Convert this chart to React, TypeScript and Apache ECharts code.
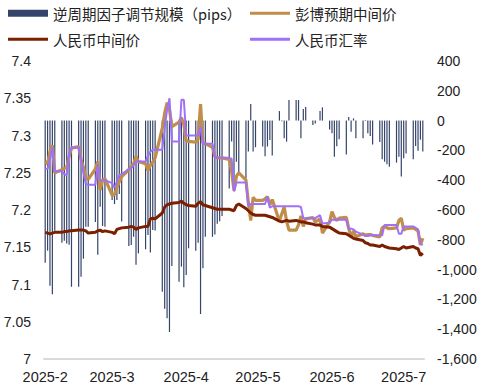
import React, { useEffect, useRef } from "react";
import * as echarts from "echarts";

const NAME_BAR = "逆周期因子调节规模（pips）";
const NAME_BBG = "彭博预期中间价";
const NAME_MID = "人民币中间价";
const NAME_SPOT = "人民币汇率";

const axisStart = "2025-02-03";
const axisEnd = "2025-07-11";

const dates = [
  "2025-02-03", "2025-02-04", "2025-02-05", "2025-02-06", "2025-02-07",
  "2025-02-10", "2025-02-11", "2025-02-12", "2025-02-13", "2025-02-14",
  "2025-02-17", "2025-02-18", "2025-02-19", "2025-02-20", "2025-02-21",
  "2025-02-24", "2025-02-25", "2025-02-26", "2025-02-27", "2025-02-28",
  "2025-03-03", "2025-03-04", "2025-03-05", "2025-03-06", "2025-03-07",
  "2025-03-10", "2025-03-11", "2025-03-12", "2025-03-13", "2025-03-14",
  "2025-03-17", "2025-03-18", "2025-03-19", "2025-03-20", "2025-03-21",
  "2025-03-24", "2025-03-25", "2025-03-26", "2025-03-27", "2025-03-28",
  "2025-03-31", "2025-04-01", "2025-04-02", "2025-04-03", "2025-04-04",
  "2025-04-07", "2025-04-08", "2025-04-09", "2025-04-10", "2025-04-11",
  "2025-04-14", "2025-04-15", "2025-04-16", "2025-04-17", "2025-04-18",
  "2025-04-21", "2025-04-22", "2025-04-23", "2025-04-24", "2025-04-25",
  "2025-04-28", "2025-04-29", "2025-04-30", "2025-05-01", "2025-05-02",
  "2025-05-05", "2025-05-06", "2025-05-07", "2025-05-08", "2025-05-09",
  "2025-05-12", "2025-05-13", "2025-05-14", "2025-05-15", "2025-05-16",
  "2025-05-19", "2025-05-20", "2025-05-21", "2025-05-22", "2025-05-23",
  "2025-05-26", "2025-05-27", "2025-05-29", "2025-05-30",
  "2025-06-02", "2025-06-03", "2025-06-04", "2025-06-05", "2025-06-06",
  "2025-06-09", "2025-06-10", "2025-06-11", "2025-06-12", "2025-06-13",
  "2025-06-16", "2025-06-17", "2025-06-18", "2025-06-19", "2025-06-20",
  "2025-06-23", "2025-06-24", "2025-06-25", "2025-06-26", "2025-06-27",
  "2025-06-30", "2025-07-01", "2025-07-02", "2025-07-03", "2025-07-04",
  "2025-07-07", "2025-07-08", "2025-07-09", "2025-07-10", "2025-07-11",
];

const ccfPips = [
  -954, -873, -1108, -1166, -740,
  -819, -806, -824, -833, -1115,
  -1115, -1048, -927, -712, -712,
  -680, -900, -578, -707, -712,
  -533, -560, -533, -493, -678,
  -842, -835, -779, -967, -891,
  -864, -768, -886, -734, -738,
  -1148, -1262, -1327, -1419, -976,
  -1081, -980, -1119, -1036, -857,
  -873, -819, -1298, -991, -779,
  -780, -765, -693, -675, -640,
  -455, -141, -410, -276, -365,
  -390, -208, 111, -208, -179,
  -174, -240, -174, -130, -235,
  64, -5, -119, -141, 138,
  138, 138, -119, 78, 91,
  -29, -20, 64, 89,
  -60, -85, -242, -172, -125,
  -228, 24, -74, 15, -119,
  -119, 4, -85, -103, -160,
  -144, -260, -276, -293, -309,
  -282, -242, -376, -253, -220,
  -260, -170, -202, -128, -208,
];

const bbgFix = [
  7.265, 7.262, 7.278, 7.287, 7.25,
  7.254, 7.256, 7.257, 7.272, 7.283,
  7.285, 7.268, 7.257, 7.243, 7.241,
  7.255, 7.265, 7.227, 7.24, 7.242,
  7.22, 7.221, 7.23, 7.238, 7.245,
  7.254, 7.258, 7.262, 7.272, 7.265,
  7.262, 7.253, 7.26, 7.264, 7.27,
  7.31, 7.33, 7.344, 7.335, 7.312,
  7.318, 7.324, 7.315, 7.293, 7.292,
  7.291, 7.295, 7.342, 7.29, 7.289,
  7.284, 7.272, 7.27, 7.27, 7.27,
  7.268, 7.252, 7.226, 7.245, 7.25,
  7.24, 7.21, 7.186, 7.217, 7.213,
  7.213, 7.215, 7.218, 7.207, 7.214,
  7.185, 7.195, 7.204, 7.185, 7.173,
  7.173, 7.18, 7.192, 7.178, 7.188,
  7.19, 7.184, 7.188, 7.169,
  7.184, 7.198, 7.19, 7.186, 7.189,
  7.19, 7.175, 7.164, 7.172, 7.164,
  7.168, 7.166, 7.167, 7.167, 7.166,
  7.164, 7.176, 7.178, 7.176, 7.175,
  7.176, 7.186, 7.189, 7.173, 7.175,
  7.176, 7.174, 7.172, 7.153, 7.162,
];

const cnyMid = [
  7.17, 7.169, 7.168, 7.169, 7.17,
  7.17, 7.171, 7.171, 7.172, 7.172,
  7.173, 7.173, 7.173, 7.172, 7.169,
  7.17, 7.172, 7.173, 7.171, 7.172,
  7.17, 7.168, 7.174, 7.175, 7.176,
  7.177, 7.178, 7.177, 7.174, 7.176,
  7.178, 7.178, 7.188, 7.189, 7.188,
  7.196, 7.204, 7.207, 7.208, 7.209,
  7.21, 7.212, 7.209, 7.207, 7.206,
  7.205, 7.209, 7.211, 7.207, 7.206,
  7.203, 7.202, 7.201, 7.201, 7.201,
  7.201, 7.2, 7.199, 7.206, 7.208,
  7.202, 7.199, 7.196, 7.194, 7.193,
  7.193, 7.193, 7.192, 7.191, 7.19,
  7.185, 7.184, 7.185, 7.186, 7.185,
  7.186, 7.185, 7.184, 7.184, 7.183,
  7.181, 7.18, 7.18, 7.178,
  7.177, 7.175, 7.173, 7.171, 7.169,
  7.168, 7.166, 7.164, 7.162, 7.161,
  7.159, 7.156, 7.155, 7.153, 7.153,
  7.151, 7.153, 7.151, 7.15, 7.149,
  7.148, 7.147, 7.149, 7.151, 7.149,
  7.151, 7.149, 7.148, 7.139, 7.142,
];

const usdCny = [
  7.255, 7.255, 7.268, 7.284, 7.252,
  7.252, 7.248, 7.247, 7.275, 7.284,
  7.284, 7.266, 7.25, 7.235, 7.234,
  7.234, 7.261, 7.24, 7.24, 7.24,
  7.236, 7.23, 7.238, 7.247, 7.248,
  7.255, 7.256, 7.26, 7.265, 7.265,
  7.265, 7.273, 7.278, 7.281, 7.281,
  7.281, 7.31, 7.335, 7.35, 7.292,
  7.292, 7.348, 7.348, 7.3, 7.3,
  7.3, 7.3, 7.312, 7.289, 7.289,
  7.289, 7.27, 7.27, 7.27, 7.27,
  7.27, 7.269, 7.225, 7.237, 7.237,
  7.237, 7.205, 7.208, 7.208, 7.208,
  7.208, 7.208, 7.218, 7.203, 7.205,
  7.205, 7.205, 7.205, 7.205, 7.205,
  7.205, 7.205, 7.204, 7.189, 7.189,
  7.189, 7.189, 7.193, 7.182,
  7.183, 7.187, 7.187, 7.187, 7.187,
  7.187, 7.175, 7.175, 7.174, 7.171,
  7.167, 7.165, 7.165, 7.166, 7.166,
  7.166, 7.166, 7.18, 7.18, 7.18,
  7.18, 7.168, 7.168, 7.178, 7.178,
  7.178, 7.176, 7.174, 7.155, 7.153,
];

function calendarDays(start: string, end: string): string[] {
  const out: string[] = [];
  const t = new Date(start + "T00:00:00Z");
  const e = new Date(end + "T00:00:00Z");
  while (t.getTime() <= e.getTime()) {
    out.push(t.toISOString().slice(0, 10));
    t.setUTCDate(t.getUTCDate() + 1);
  }
  return out;
}

export default function App() {
  const ref = useRef<HTMLDivElement>(null);
  useEffect(() => {
    document.body.style.margin = "0";
    if (!ref.current) return;
    const chart = echarts.init(ref.current, undefined, { renderer: "svg" });
    const cats = calendarDays(axisStart, axisEnd);
    const align = (arr: number[]) => {
      const m = new Map<string, number>();
      dates.forEach((d, i) => m.set(d, arr[i]));
      return cats.map((c) => (m.has(c) ? m.get(c)! : null));
    };
    const txt = { color: "#222", fontSize: 14.5, fontFamily: "Noto Sans CJK SC" };
    const numFont = "Liberation Sans";
    chart.setOption({
      animation: false,
      grid: { left: 44, right: 61, top: 61, bottom: 29, containLabel: false },
      legend: [
        { left: 8, top: 6, padding: 0, data: [NAME_BAR], icon: "rect", itemWidth: 40, itemHeight: 7, textStyle: txt },
        { left: 250, top: 6, padding: 0, data: [NAME_BBG], icon: "rect", itemWidth: 40, itemHeight: 3, textStyle: txt },
        { left: 8, top: 32, padding: 0, data: [NAME_MID], icon: "rect", itemWidth: 40, itemHeight: 3, textStyle: txt },
        { left: 250, top: 32, padding: 0, data: [NAME_SPOT], icon: "rect", itemWidth: 40, itemHeight: 3, textStyle: txt },
      ],
      xAxis: {
        type: "category",
        data: cats,
        axisLine: { onZero: false, lineStyle: { color: "#D9D9D9", width: 2 } },
        axisTick: { show: false },
        axisLabel: {
          interval: (_i: number, v: string) => v.slice(8) === "03",
          formatter: (v: string) => `2025-${parseInt(v.slice(5, 7), 10)}`,
          color: "#222",
          fontSize: 14.5,
          fontFamily: numFont,
          margin: 10,
        },
        splitLine: { show: false },
      },
      yAxis: [
        {
          type: "value",
          min: 7,
          max: 7.4,
          interval: 0.05,
          axisLine: { show: false },
          axisTick: { show: false },
          splitLine: { show: false },
          axisLabel: { color: "#222", fontSize: 14, fontFamily: numFont, margin: 13 },
        },
        {
          type: "value",
          min: -1600,
          max: 400,
          interval: 200,
          axisLine: { show: false },
          axisTick: { show: false },
          splitLine: { show: false },
          axisLabel: {
            color: "#222",
            fontSize: 14,
            fontFamily: numFont,
            margin: 13,
            formatter: (v: number) => v.toLocaleString("en-US"),
          },
        },
      ],
      series: [
        {
          name: NAME_BAR,
          type: "bar",
          yAxisIndex: 1,
          data: align(ccfPips),
          barWidth: 1.2,
          itemStyle: { color: "#35446A" },
        },
        {
          name: NAME_BBG,
          type: "line",
          yAxisIndex: 0,
          data: align(bbgFix),
          connectNulls: true,
          symbol: "none",
          lineStyle: { color: "#C08D4B", width: 3.2 },
          itemStyle: { color: "#C08D4B" },
        },
        {
          name: NAME_MID,
          type: "line",
          yAxisIndex: 0,
          data: align(cnyMid),
          connectNulls: true,
          symbol: "none",
          lineStyle: { color: "#7A2000", width: 3 },
          itemStyle: { color: "#7A2000" },
        },
        {
          name: NAME_SPOT,
          type: "line",
          yAxisIndex: 0,
          data: align(usdCny),
          connectNulls: true,
          symbol: "none",
          lineStyle: { color: "#A070F8", width: 2 },
          itemStyle: { color: "#A070F8" },
        },
      ],
    });
    return () => chart.dispose();
  }, []);
  return <div ref={ref} style={{ width: 485, height: 388 }} />;
}
